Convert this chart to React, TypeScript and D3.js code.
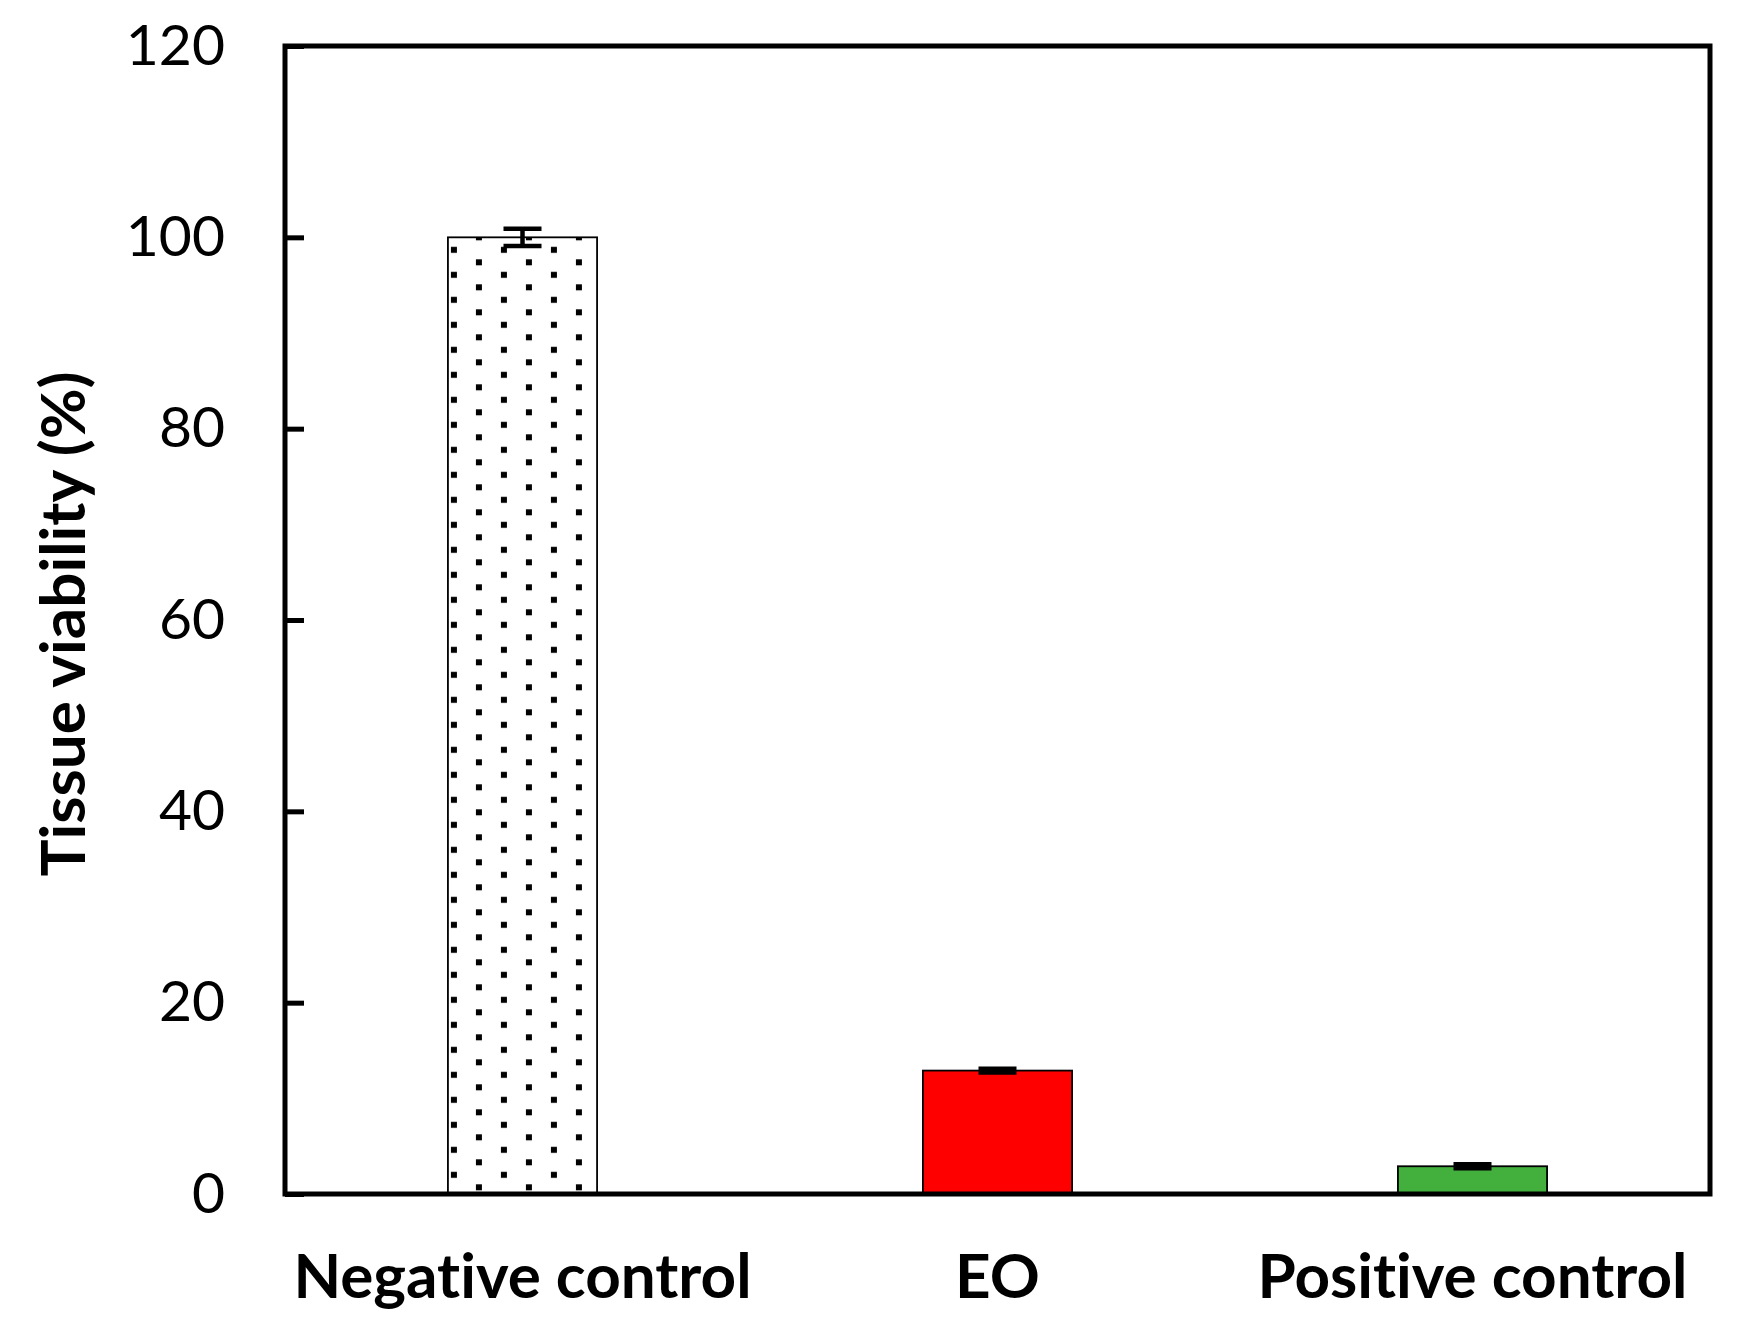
import React, { useEffect, useRef } from 'react';
import * as d3 from 'd3';

const categories = ['Negative control', 'EO', 'Positive control'];
const viability = [100, 12.9, 2.9];
const errors = [0.9, 0.2, 0.2];
const yTicks = [0, 20, 40, 60, 80, 100, 120];

const W = 1744;
const H = 1328;
const margin = { top: 46, right: 34, bottom: 134, left: 285 };

const App: React.FC = () => {
  const svgRef = useRef<SVGSVGElement>(null);

  useEffect(() => {
    if (!svgRef.current) return;
    const svg = d3.select(svgRef.current);
    svg.selectAll('*').remove();

    const x0 = margin.left;
    const x1 = W - margin.right;
    const y0 = H - margin.bottom;
    const y1 = margin.top;

    const x = d3.scaleBand<string>()
      .domain(categories)
      .range([x0, x1])
      .paddingInner(0.686)
      .paddingOuter(0.343);

    const y = d3.scaleLinear().domain([0, 120]).range([y0, y1]);

    const fills = ['url(#dots)', '#ff0000', '#43af3c'];

    // dotted pattern for the negative control, aligned to its bar
    const negLeft = x(categories[0])!;
    const negTop = y(viability[0]);
    const pat = svg.append('defs').append('pattern')
      .attr('id', 'dots')
      .attr('patternUnits', 'userSpaceOnUse')
      .attr('x', negLeft)
      .attr('y', negTop - 6.25)
      .attr('width', 50)
      .attr('height', 25);
    pat.append('rect').attr('width', 50).attr('height', 25).attr('fill', '#fff');
    pat.append('rect').attr('x', 3).attr('y', 15.75).attr('width', 6).attr('height', 6).attr('fill', '#000');
    pat.append('rect').attr('x', 28).attr('y', 3.25).attr('width', 6).attr('height', 6).attr('fill', '#000');

    // bars
    svg.append('g')
      .selectAll('rect')
      .data(categories)
      .join('rect')
      .attr('x', d => x(d)!)
      .attr('y', (d, i) => y(viability[i]))
      .attr('width', x.bandwidth())
      .attr('height', (d, i) => y0 - y(viability[i]))
      .attr('fill', (d, i) => fills[i])
      .attr('stroke', '#000')
      .attr('stroke-width', 1.8);

    // error bars
    const cap = 19;
    const eb = svg.append('g').attr('stroke', '#000').attr('stroke-width', 4.5);
    categories.forEach((c, i) => {
      const cx = x(c)! + x.bandwidth() / 2;
      const hi = y(viability[i] + errors[i]);
      const lo = y(viability[i] - errors[i]);
      eb.append('line').attr('x1', cx).attr('x2', cx).attr('y1', hi).attr('y2', lo);
      eb.append('line').attr('x1', cx - cap).attr('x2', cx + cap).attr('y1', hi).attr('y2', hi);
      eb.append('line').attr('x1', cx - cap).attr('x2', cx + cap).attr('y1', lo).attr('y2', lo);
    });

    // frame
    svg.append('rect')
      .attr('x', x0)
      .attr('y', y1)
      .attr('width', x1 - x0)
      .attr('height', y0 - y1)
      .attr('fill', 'none')
      .attr('stroke', '#000')
      .attr('stroke-width', 5);

    // y axis with inward ticks
    const yAxis = d3.axisLeft(y)
      .tickValues(yTicks)
      .tickSizeInner(-19)
      .tickSizeOuter(0)
      .tickPadding(60)
      .tickFormat(d3.format('d'));
    const gy = svg.append('g').attr('transform', `translate(${x0},0)`).call(yAxis);
    gy.select('.domain').remove();
    gy.selectAll('.tick line').attr('stroke', '#000').attr('stroke-width', 5);
    gy.selectAll('.tick text')
      .attr('fill', '#000')
      .style('font-family', 'Lato, sans-serif')
      .style('font-size', '57px');

    // x category labels
    svg.append('g')
      .selectAll('text')
      .data(categories)
      .join('text')
      .attr('x', d => x(d)! + x.bandwidth() / 2)
      .attr('y', 1298)
      .attr('text-anchor', 'middle')
      .style('font-family', 'Lato, sans-serif')
      .style('font-weight', 700)
      .style('font-size', '62px')
      .style('font-variant-ligatures', 'none')
      .text(d => d);

    // y axis title
    svg.append('text')
      .attr('transform', `translate(85,${(y0 + y1) / 2 + 4}) rotate(-90)`)
      .attr('text-anchor', 'middle')
      .style('font-family', 'Lato, sans-serif')
      .style('font-weight', 700)
      .style('font-size', '62px')
      .style('font-variant-ligatures', 'none')
      .text('Tissue viability (%)');
  }, []);

  return (
    <svg
      ref={svgRef}
      width={W}
      height={H}
      viewBox={`0 0 ${W} ${H}`}
      style={{ position: 'absolute', left: 0, top: 0, background: '#fff' }}
    />
  );
};

export default App;
